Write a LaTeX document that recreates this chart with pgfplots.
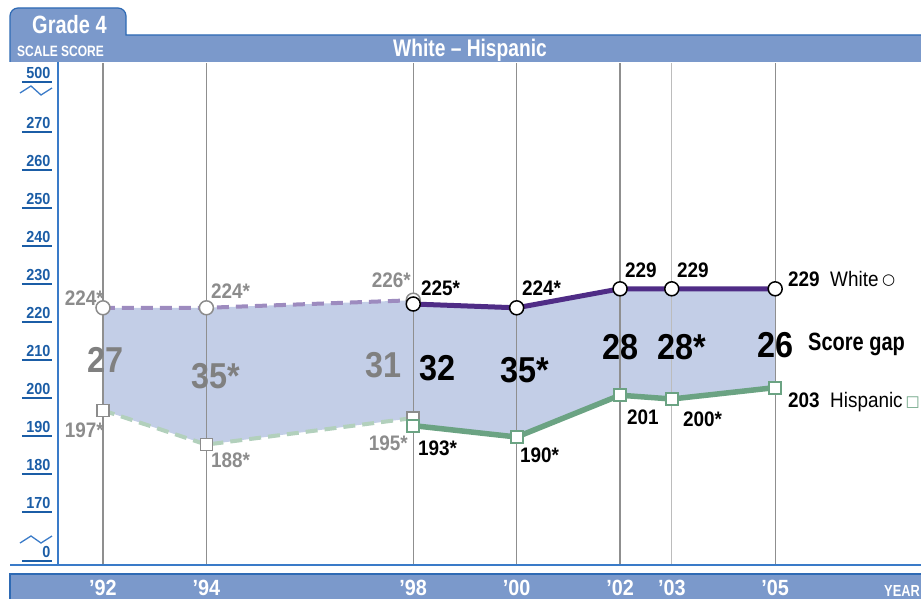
\documentclass[border=0pt]{standalone}
\usepackage{fontspec}
\setmainfont{Liberation Sans}[FakeStretch=0.9]
\newfontfamily\cond{Liberation Sans}[FakeStretch=0.8]
\newfontfamily\sym{DejaVu Sans}
\usepackage{pgfplots}
\pgfplotsset{compat=1.18}
\definecolor{hdr}{HTML}{7B99CB}
\definecolor{hdrline}{HTML}{2E6AB4}
\definecolor{tickblue}{HTML}{1B5DA6}
\definecolor{axblue}{HTML}{3A7BC8}
\definecolor{gapfill}{HTML}{C3CEE7}
\definecolor{wsolid}{HTML}{4F2C86}
\definecolor{wdash}{HTML}{9D8BBF}
\definecolor{hsolid}{HTML}{6BA383}
\definecolor{hdash}{HTML}{B2D0BC}
\definecolor{lblgray}{HTML}{8C8C8C}
\definecolor{gapgray}{HTML}{808080}
\definecolor{gridgray}{HTML}{8F8F8F}
\newcommand{\fs}[1]{\fontsize{#1}{#1}\selectfont}
\newcommand{\ul}[1]{\vbox{\hbox to 30pt{\hfil#1\hspace{1.5pt}}\kern2.5pt\hrule height 1.5pt}}
\tikzset{px/.style={x=1pt,y=-1pt,yshift=598pt}}
\begin{document}
\begin{tikzpicture}
\begin{scope}[px]
% header
\fill[hdr] (10,62) [rounded corners=8pt]-- (10,8) -- (126,8) [sharp corners]-- (126,35) -- (921,35) -- (921,62) -- cycle;
\draw[hdrline, line width=1.2pt] (10,62) [rounded corners=8pt]-- (10,8) -- (126,8) [sharp corners]-- (126,35) -- (925,35);
\node[anchor=base west, inner sep=0pt, text=white, font=\cond\bfseries\fs{25}] at (32,34) {Grade 4};
\node[anchor=base west, inner sep=0pt, text=white, font=\cond\bfseries\fs{15}] at (17,57) {SCALE SCORE};
\node[anchor=base, inner sep=0pt, text=white, font=\cond\bfseries\fs{24}] at (470,57) {White \textendash{} Hispanic};
\end{scope}
% x = year - 1990
\begin{axis}[
  at={(58pt,33pt)}, anchor=south west, scale only axis,
  width=863pt, height=502pt,
  xmin=1.13, xmax=17.82, ymin=156.32, ymax=288.42,
  set layers, clip=false,
  axis line style={draw=none},
  major tick length=0pt,
  xtick={2,4,8,10,12,15},
  xticklabels={’92,’94,’98,’00,’02,’05},
  extra x ticks={13}, extra x tick labels={’03},
  extra x tick style={grid style={draw=gridgray!60, line width=1.3pt}},
  xmajorgrids, grid style={draw=gridgray, line width=1.3pt},
  xticklabel style={anchor=base, inner sep=0pt, yshift=-30pt, text=white, font=\bfseries\fs{22}},
  ytick={157.1,170,180,190,200,210,220,230,240,250,260,270,283.16},
  yticklabels={\ul{0},\ul{170},\ul{180},\ul{190},\ul{200},\ul{210},\ul{220},\ul{230},\ul{240},\ul{250},\ul{260},\ul{270},\ul{500}},
  yticklabel style={anchor=south east, inner sep=0pt, xshift=-6pt, text=tickblue, font=\bfseries\fs{16}},
]
\begin{pgfonlayer}{axis background}
\fill[hdr] (rel axis cs:-0.0556,-0.0179) rectangle (rel axis cs:1.01,-0.12);
\draw[hdrline, line width=1.2pt] (rel axis cs:-0.0556,-0.12) -- (rel axis cs:-0.0556,-0.0179) -- (rel axis cs:1.01,-0.0179);
\end{pgfonlayer}
\addplot[on layer=axis background, fill=gapfill, draw=none] coordinates {
  (2,224)(4,224)(8,226)(8,225)(10,224)(12,229)(13,229)(15,229)
  (15,203)(13,200)(12,201)(10,190)(8,193)(8,195)(4,188)(2,197)(2,224)};
\addplot[wdash, line width=4pt, dash pattern=on 12pt off 7pt, mark=*, mark size=7pt,
  mark options={solid, fill=white, draw=lblgray, line width=1.5pt}]
  coordinates {(2,224)(4,224)(8,226)};
\addplot[hdash, line width=4pt, dash pattern=on 12pt off 7pt, mark=square*, mark size=6pt,
  mark options={solid, fill=white, draw=lblgray, line width=1.5pt}]
  coordinates {(2,197)(4,188)(8,195)};
\addplot[wsolid, line width=5pt, mark=*, mark size=7pt,
  mark options={fill=white, draw=black, line width=1.5pt}]
  coordinates {(8,225)(10,224)(12,229)(13,229)(15,229)};
\addplot[hsolid, line width=5.5pt, mark=square*, mark size=6pt,
  mark options={fill=white, draw=hsolid, line width=1.8pt}]
  coordinates {(8,193)(10,190)(12,201)(13,200)(15,203)};
\end{axis}
\begin{scope}[px]
\node[anchor=base east, inner sep=0pt, text=white, font=\cond\bfseries\fs{16}] at (920,596) {YEAR};
% axis lines
\draw[axblue, line width=1.5pt] (58,62) -- (58,565);
\draw[axblue, line width=1.5pt] (10,565) -- (925,565);
% breaks
\draw[axblue, line width=1.3pt] (20,93) -- (31,86) -- (41,95) -- (52,88);
\draw[axblue, line width=1.3pt] (20,543) -- (31,536) -- (41,543) -- (52,536);
% value labels
\begin{scope}[every node/.style={inner sep=0pt, font=\bfseries\fs{21}}]
\node[anchor=base east, text=lblgray] at (104,305) {224*};
\node[anchor=base west, text=lblgray] at (211,299) {224*};
\node[anchor=base east, text=lblgray] at (104,437) {197*};
\node[anchor=base west, text=lblgray] at (211,467) {188*};
\node[anchor=base east, text=lblgray] at (411,288) {226*};
\node[anchor=base east, text=lblgray] at (408,450) {195*};
\node[anchor=base west] at (421,296) {225*};
\node[anchor=base west] at (418,455) {193*};
\node[anchor=base west] at (522,296) {224*};
\node[anchor=base west] at (520,462) {190*};
\node[anchor=base west] at (625,278) {229};
\node[anchor=base west] at (677,278) {229};
\node[anchor=base west] at (627,424) {201};
\node[anchor=base west] at (683,426) {200*};
\node[anchor=base west] at (788,287) {229};
\node[anchor=base west] at (788,407) {203};
\end{scope}
\node[anchor=base west, inner sep=0pt, font=\fs{21}] at (830,287) {White};
\node[anchor=base west, inner sep=0pt, font=\fs{21}] at (830,407) {Hispanic};
\node[anchor=base west, inner sep=0pt, font=\sym\fs{15}] at (882,285) {○};
\node[anchor=base east, inner sep=0pt, text=hsolid, font=\sym\fs{15}] at (920,406) {□};
\node[anchor=base west, inner sep=0pt, font=\cond\bfseries\fs{25}] at (808,350) {Score gap};
% gap numbers
\begin{scope}[every node/.style={inner sep=0pt, anchor=base west, font=\bfseries\fs{36}}]
\node[text=gapgray] at (87,372) {27};
\node[text=gapgray] at (191,388) {35*};
\node[text=gapgray] at (365,377) {31};
\node at (419,380) {32};
\node at (500,382) {35*};
\node at (602,359) {28};
\node at (657,359) {28*};
\node at (757,357) {26};
\end{scope}
\end{scope}
\pgfresetboundingbox
\useasboundingbox (0,0) rectangle (921pt,598pt);
\end{tikzpicture}
\end{document}
